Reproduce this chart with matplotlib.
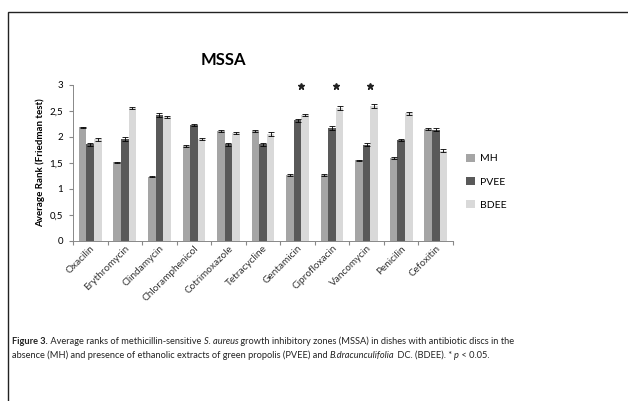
import numpy as np
import matplotlib.pyplot as plt
from matplotlib.patches import Rectangle

antibiotics = ['Oxacilin', 'Erythromycin', 'Clindamycin', 'Chloramphenicol', 'Cotrimoxazole',
               'Tetracycline', 'Gentamicin', 'Ciprofloxacin', 'Vancomycin', 'Penicilin', 'Cefoxitin']
mh = [2.19, 1.51, 1.24, 1.83, 2.11, 2.11, 1.27, 1.27, 1.55, 1.60, 2.16]
pvee = [1.86, 1.96, 2.42, 2.23, 1.86, 1.86, 2.32, 2.18, 1.85, 1.95, 2.14]
bdee = [1.96, 2.56, 2.38, 1.97, 2.08, 2.06, 2.43, 2.56, 2.59, 2.46, 1.74]
mh_err = [0.01, 0.01, 0.01, 0.02, 0.02, 0.02, 0.02, 0.02, 0.01, 0.02, 0.02]
pvee_err = [0.03, 0.04, 0.04, 0.02, 0.03, 0.03, 0.03, 0.04, 0.03, 0.02, 0.03]
bdee_err = [0.03, 0.02, 0.02, 0.02, 0.02, 0.04, 0.02, 0.04, 0.04, 0.03, 0.02]
significant = ['Gentamicin', 'Ciprofloxacin', 'Vancomycin']

series = [('MH', mh, mh_err, '#a5a5a5'),
          ('PVEE', pvee, pvee_err, '#595959'),
          ('BDEE', bdee, bdee_err, '#d9d9d9')]

plt.rcParams['font.family'] = ['Lato', 'DejaVu Sans']

fig = plt.figure(figsize=(6.28, 4.01), dpi=100)
ax = fig.add_axes([73 / 628, 1 - 241 / 401, 380 / 628, 156 / 401])

x = np.arange(len(antibiotics)) + 0.5
w = 0.22
for i, (name, vals, err, col) in enumerate(series):
    ax.bar(x + (i - 1) * w, vals, w, color=col, label=name, zorder=2)
    ax.errorbar(x + (i - 1) * w, vals, yerr=err, fmt='none', ecolor='black',
                elinewidth=0.6, capsize=2, capthick=0.6, zorder=3)

# significance marks
for name in significant:
    k = antibiotics.index(name)
    ax.plot(x[k] + 0.1, 2.99, marker='*', markersize=4.5, color='#222222', clip_on=False)

ax.set_xlim(0, len(antibiotics))
ax.set_ylim(0, 3)
ax.set_yticks(np.arange(0, 3.01, 0.5))
ax.set_yticklabels(['0', '0,5', '1', '1,5', '2', '2,5', '3'], fontsize=7)
ax.set_xticks(np.arange(0, len(antibiotics) + 1))
ax.set_xticklabels([])
ax.set_xticks(x, minor=True)
ax.set_xticklabels(antibiotics, minor=True, rotation=45, ha='right', rotation_mode='anchor',
                   fontsize=7.2, color='#333333')
ax.tick_params(axis='x', which='minor', length=0, pad=2)
ax.tick_params(axis='x', which='major', length=3, color='#888888', direction='out')
ax.tick_params(axis='y', length=3, color='#888888', labelsize=7, pad=4)
ax.spines['top'].set_visible(False)
ax.spines['right'].set_visible(False)
for side in ['left', 'bottom']:
    ax.spines[side].set_color('#888888')
    ax.spines[side].set_linewidth(0.7)
ax.set_ylabel('Average Rank (Friedman test)', fontsize=7, fontweight='bold', labelpad=3)

fig.text(223 / 628, 1 - 60 / 401, 'MSSA', ha='center', va='center', fontsize=12, fontweight='bold')

ax.legend(loc='center left', bbox_to_anchor=(1.01, 0.38), frameon=False, fontsize=7.5,
          handlelength=0.8, handleheight=0.8, labelspacing=1.3, handletextpad=0.5)

# frame around the figure panel
fig.patches.append(Rectangle((8 / 628, -0.1), 1.2, 1 - 12 / 401 + 0.1, transform=fig.transFigure,
                             fill=False, edgecolor='#222222', linewidth=1))

# caption with mixed styles, pieces chained one after another
cap_size = 6.7
line1 = [('Figure 3.', 'bold', 'normal'),
         (' Average ranks of methicillin-sensitive ', 'normal', 'normal'),
         ('S. aureus', 'normal', 'italic'),
         (' growth inhibitory zones (MSSA) in dishes with antibiotic discs in the', 'normal', 'normal')]
line2 = [('absence (MH) and presence of ethanolic extracts of green propolis (PVEE) and ', 'normal', 'normal'),
         ('B.dracunculifolia', 'normal', 'italic'),
         (' DC. (BDEE). * ', 'normal', 'normal'),
         ('p', 'normal', 'italic'),
         (' < 0.05.', 'normal', 'normal')]
for y, parts in [(1 - 346 / 401, line1), (1 - 360 / 401, line2)]:
    last = None
    for txt, weight, style in parts:
        kw = dict(fontsize=cap_size, fontweight=weight, fontstyle=style,
                  va='bottom', ha='left', color='#222222')
        if last is None:
            last = fig.text(12 / 628, y, txt, **kw)
        else:
            last = ax.annotate(txt, xy=(1, 0), xycoords=last, annotation_clip=False, **kw)

fig.savefig('out.png', dpi=100)
